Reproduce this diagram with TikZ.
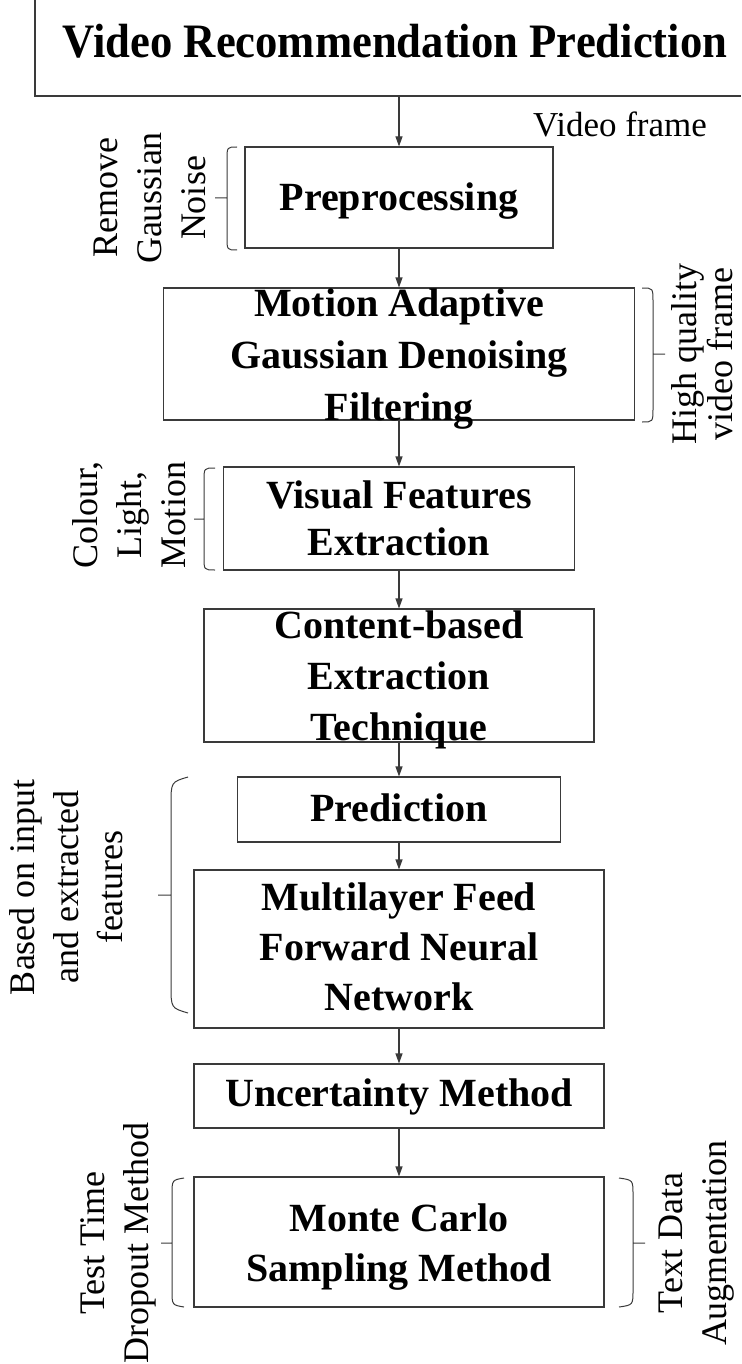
\documentclass[tikz,border=0pt]{standalone}
\usepackage{fontspec}
\setmainfont{Liberation Serif}
\newfontfamily\headfont[FakeStretch=0.93]{Liberation Serif}
\usetikzlibrary{arrows.meta}
\definecolor{linec}{HTML}{3A3A3A}

\begin{document}
\begin{tikzpicture}[x=1pt,y=-1pt,
  box/.style={draw=linec, line width=1.1pt, inner sep=0pt},
  boxtext/.style={font=\bfseries\fontsize{40}{51}\selectfont, align=center, inner sep=0pt},
  note/.style={font=\fontsize{36}{44}\selectfont, align=center, inner sep=0pt, rotate=90},
  flow/.style={draw=linec, line width=1.1pt, -{Triangle[length=10pt,width=7pt]}},
  brace/.style={draw=linec, line width=1pt}]

\useasboundingbox (0,0) rectangle (741,1364);

% heading frame, open at the top and right
\draw[linec, line width=1.1pt] (35,0) -- (35,96) -- (741,96);
\coordinate (head) at (399,96);
\node[inner sep=0pt, font=\headfont\bfseries\fontsize{48}{56}\selectfont] (title) at (395,41) {Video Recommendation Prediction};
\node[inner sep=0pt, font=\fontsize{35}{42}\selectfont] (vframe) at (620,124) {Video frame};

% process boxes
\node[box, minimum width=308pt, minimum height=101pt] (pre)     at (399,197.5) {};
\node[box, minimum width=471pt, minimum height=132pt] (motion)  at (399,354)   {};
\node[box, minimum width=351pt, minimum height=103pt] (visual)  at (399,518.5) {};
\node[box, minimum width=390pt, minimum height=133pt] (content) at (399,675.5) {};
\node[box, minimum width=323pt, minimum height=65pt]  (pred)    at (399,809.5) {};
\node[box, minimum width=410pt, minimum height=158pt] (mlp)     at (399,949)   {};
\node[box, minimum width=410pt, minimum height=64pt]  (unc)     at (399,1096)  {};
\node[box, minimum width=410pt, minimum height=130pt] (mc)      at (399,1242)  {};

% box captions
\node[boxtext] (preT)     at (399,201)  {Preprocessing};
\node[boxtext, font=\bfseries\fontsize{40}{52}\selectfont] (motionT) at (399,359) {Motion Adaptive\\Gaussian Denoising\\Filtering};
\node[boxtext, font=\bfseries\fontsize{40}{47}\selectfont] (visualT) at (399,518) {Visual Features\\Extraction};
\node[boxtext] (contentT) at (399,680)  {Content-based\\Extraction\\Technique};
\node[boxtext] (predT)    at (399,808)  {Prediction};
\node[boxtext, font=\bfseries\fontsize{40}{50}\selectfont] (mlpT) at (399,947) {Multilayer Feed\\Forward Neural\\Network};
\node[boxtext] (uncT)     at (399,1097) {Uncertainty Method};
\node[boxtext, font=\bfseries\fontsize{40}{50}\selectfont] (mcT) at (399,1247) {Monte Carlo\\Sampling Method};

% flow arrows
\draw[flow] (head) -- (pre.north);
\draw[flow] (pre.south) -- (motion.north);
\draw[flow] (motion.south) -- (visual.north);
\draw[flow] (visual.south) -- (content.north);
\draw[flow] (content.south) -- (pred.north);
\draw[flow] (pred.south) -- (mlp.north);
\draw[flow] (mlp.south) -- (unc.north);
\draw[flow] (unc.south) -- (mc.north);

% brackets with their ticks
\draw[brace] (237,147) .. controls (227,147) .. (227,160) -- (227,237) .. controls (227,250) .. (237,250)
             (227,198) -- (215,198);
\draw[brace] (642,288) .. controls (653,288) .. (653,302) -- (653,408) .. controls (653,422) .. (642,422)
             (653,354) -- (665,354);
\draw[brace] (215,468) .. controls (204,468) .. (204,481) -- (204,557) .. controls (204,570) .. (215,570)
             (204,519) -- (194,519);
\draw[brace] (188,777) .. controls (171,782) .. (171,805) -- (171,985) .. controls (171,1008) .. (188,1013)
             (171,895) -- (158,895);
\draw[brace] (184,1178) .. controls (172,1180) .. (172,1195) -- (172,1290) .. controls (172,1305) .. (184,1307)
             (172,1243) -- (161,1243);
\draw[brace] (619,1178) .. controls (633,1180) .. (633,1195) -- (633,1290) .. controls (633,1305) .. (619,1307)
             (633,1243) -- (645,1243);

% side notes
\node[note] (noteA) at (150,198)  {Remove\\Gaussian\\Noise};
\node[note, font=\fontsize{36}{36}\selectfont] (noteB) at (702,354) {High quality\\video frame};
\node[note] (noteC) at (129,515)  {Colour,\\Light,\\Motion};
\node[note] (noteD) at (66,887)   {Based on input\\and extracted\\features};
\node[note] (noteE) at (118,1243) {Test Time\\Dropout Method};
\node[note] (noteF) at (697,1243) {Text Data\\Augmentation};
\end{tikzpicture}
\end{document}
